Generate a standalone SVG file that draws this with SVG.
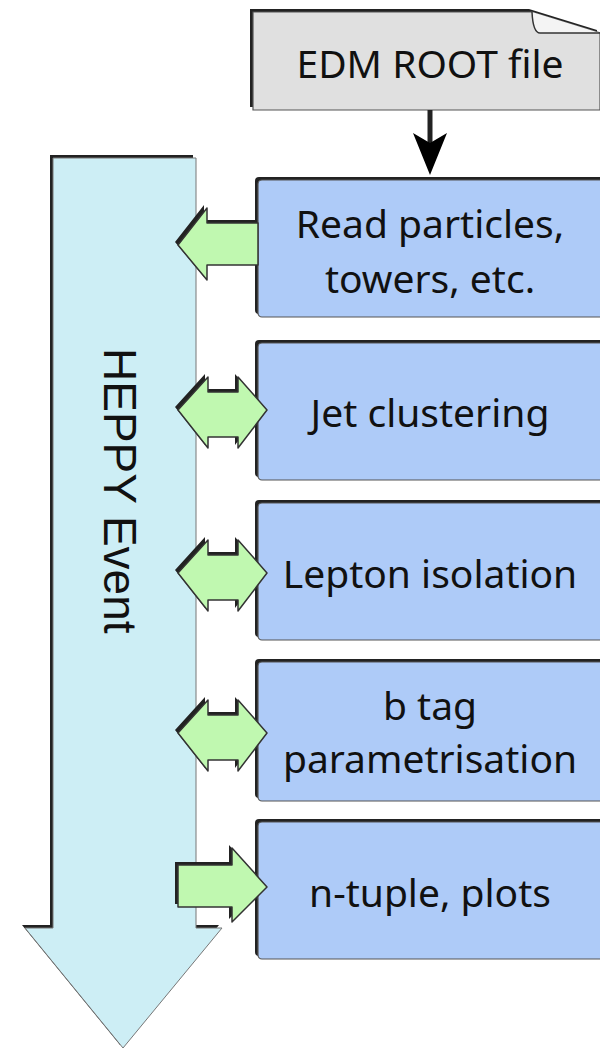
<svg xmlns="http://www.w3.org/2000/svg" width="600" height="1050" viewBox="0 0 600 1050">
<style>
  .lbl { font-family: "Noto Sans", "Open Sans", sans-serif; font-size: 39px; fill: #111; text-anchor: middle; }
  .vlbl { font-family: "Liberation Sans", Arial, sans-serif; font-size: 46px; fill: #111; }
  .shadow { fill: #222; }
  .box { fill: #aecbf8; stroke: #555; stroke-width: 1.2; }
  .green { fill: #c0f8b0; stroke: #333; stroke-width: 1.5; stroke-linejoin: round; }
  .flow { fill: #cdeef5; stroke: #777; stroke-width: 1; }
  .file { fill: #e0e0e0; stroke: #555; stroke-width: 1.2; }
</style>

<g id="heppy-event">
  <polygon class="shadow" points="50,155 193,155 193,925 219,925 120,1045 22,925 50,925"/>
  <polygon class="flow" points="53,158 196,158 196,928 222,928 123,1048 25,928 53,928"/>
  <text class="vlbl" transform="translate(104,348) rotate(90)">HEPPY Event</text>
</g>

<g id="edm-root-file">
  <path class="shadow" d="M250,9 H529 L597,30 V107 H250 Z"/>
  <path class="file" d="M253,12 H532 L600,33 V110 H253 Z"/>
  <path d="M532,12 Q533,33 540,33 H600" fill="#f4f4f4" stroke="#333" stroke-width="1.5"/>
  <text class="lbl" x="430" y="78">EDM ROOT file</text>
</g>

<g id="connectors">
  <line x1="430" y1="110" x2="430" y2="146" stroke="#222" stroke-width="5"/>
  <polygon points="413,133 430,143 447,133 430,175" fill="#000"/>
</g>

<g id="read-particles">
  <rect class="shadow" x="255" y="177" width="350" height="137" rx="4"/>
  <rect class="box" x="258" y="180" width="350" height="137" rx="4"/>
  <text class="lbl" x="430" y="238">Read particles,</text>
  <text class="lbl" x="430" y="293">towers, etc.</text>
</g>
<g id="arrow-read">
  <polygon class="shadow" points="255,220 204,220 204,205 175,242 204,277 204,262 255,262"/>
  <polygon class="green" points="258,223 207,223 207,208 178,245 207,280 207,265 258,265"/>
</g>

<g id="jet-clustering">
  <rect class="shadow" x="255" y="340" width="350" height="137" rx="4"/>
  <rect class="box" x="258" y="343" width="350" height="137" rx="4"/>
  <text class="lbl" x="430" y="427">Jet clustering</text>
</g>
<g id="arrow-jet">
  <polygon class="shadow" points="175,407 205,374 205,389 235,389 235,374 264,407 235,445 235,434 205,434 205,445"/>
  <polygon class="green" points="178,410 208,377 208,392 238,392 238,377 267,410 238,448 238,437 208,437 208,448"/>
</g>

<g id="lepton-isolation">
  <rect class="shadow" x="255" y="500" width="350" height="137" rx="4"/>
  <rect class="box" x="258" y="503" width="350" height="137" rx="4"/>
  <text class="lbl" x="430" y="588">Lepton isolation</text>
</g>
<g id="arrow-lepton">
  <polygon class="shadow" points="175,570 205,537 205,552 235,552 235,537 264,570 235,608 235,597 205,597 205,608"/>
  <polygon class="green" points="178,573 208,540 208,555 238,555 238,540 267,573 238,611 238,600 208,600 208,611"/>
</g>

<g id="b-tag">
  <rect class="shadow" x="255" y="659" width="350" height="139" rx="4"/>
  <rect class="box" x="258" y="662" width="350" height="139" rx="4"/>
  <text class="lbl" x="430" y="720">b tag</text>
  <text class="lbl" x="430" y="773">parametrisation</text>
</g>
<g id="arrow-btag">
  <polygon class="shadow" points="175,730 205,697 205,712 235,712 235,697 264,730 235,768 235,757 205,757 205,768"/>
  <polygon class="green" points="178,733 208,700 208,715 238,715 238,700 267,733 238,771 238,760 208,760 208,771"/>
</g>

<g id="ntuple-plots">
  <rect class="shadow" x="255" y="819" width="350" height="137" rx="4"/>
  <rect class="box" x="258" y="822" width="350" height="137" rx="4"/>
  <text class="lbl" x="430" y="907">n-tuple, plots</text>
</g>
<g id="arrow-ntuple">
  <polygon class="shadow" points="175,862 229,862 229,845 264,884 229,919 229,904 175,904"/>
  <polygon class="green" points="178,865 232,865 232,848 267,887 232,922 232,907 178,907"/>
</g>
</svg>
